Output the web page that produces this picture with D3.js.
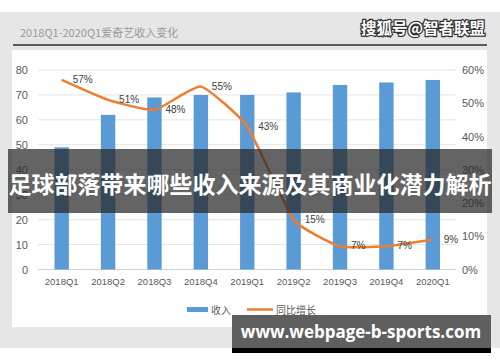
<!DOCTYPE html>
<html lang="zh">
<head>
<meta charset="utf-8">
<title>爱奇艺收入变化</title>
<script src="https://d3js.org/d3.v7.min.js"></script>
<style>
  body { margin: 0; background: #fff; }
  svg { display: block; font-family: "Liberation Sans", Arial, "Noto Sans CJK SC", sans-serif; }
</style>
</head>
<body>
<div id="chart"></div>
<script>
// data
var quarters = ["2018Q1", "2018Q2", "2018Q3", "2018Q4", "2019Q1", "2019Q2", "2019Q3", "2019Q4", "2020Q1"];
var revenue = [49, 62, 69, 70, 70, 71, 74, 75, 76];
var growth = [57, 51, 48, 55, 43, 15, 7, 7, 9];
var leftTicks = [0, 10, 20, 30, 40, 50, 60, 70, 80];
var rightTicks = [0, 10, 20, 30, 40, 50, 60];

var W = 500, H = 362;
var svg = d3.select("#chart").append("svg")
  .attr("width", W).attr("height", H);

// grey backdrop like the photographed slide
svg.append("rect").attr("x", 0).attr("y", 12).attr("width", W).attr("height", 336).attr("fill", "#e6e6e6");
svg.append("rect").attr("x", 12).attr("y", 50).attr("width", 475).attr("height", 277).attr("fill", "#fff");

svg.append("text").attr("x", 20).attr("y", 37)
  .style("font-size", "11px").style("fill", "#9a9a9a")
  .style("font-family", "'Noto Sans CJK SC', sans-serif")
  .text("2018Q1-2020Q1爱奇艺收入变化");
svg.append("line").attr("x1", 13).attr("x2", 487).attr("y1", 45).attr("y2", 45)
  .style("stroke", "#5a5a5a").style("stroke-width", 2);

var x = d3.scaleBand().domain(quarters).range([38.5, 456]).paddingInner(0.69).paddingOuter(0.345);
var y = d3.scaleLinear().domain([0, 80]).range([269.5, 70]);
var y2 = d3.scaleLinear().domain([0, 60]).range([269.5, 70]);

// gridlines
svg.append("g").selectAll("line").data(leftTicks).enter().append("line")
  .attr("x1", 38).attr("x2", 456)
  .attr("y1", function(d) { return y(d); }).attr("y2", function(d) { return y(d); })
  .style("stroke", function(d) { return d == 0 ? "#d0d0d0" : "#e4e4e4"; })
  .style("stroke-width", 1);

var yAxis = svg.append("g").attr("transform", "translate(33,0)")
  .call(d3.axisLeft(y).tickValues(leftTicks).tickSize(0).tickPadding(0));
yAxis.select(".domain").remove();
yAxis.selectAll("text").style("font-size", "11px").style("fill", "#595959").attr("x", -5);

var y2Axis = svg.append("g").attr("transform", "translate(462,0)")
  .call(d3.axisRight(y2).tickValues(rightTicks).tickSize(0).tickPadding(0)
    .tickFormat(function(d) { return d + "%"; }));
y2Axis.select(".domain").remove();
y2Axis.selectAll("text").style("font-size", "11px").style("fill", "#595959");

var xAxis = svg.append("g").attr("transform", "translate(0,278)")
  .call(d3.axisBottom(x).tickSize(0).tickPadding(0));
xAxis.select(".domain").remove();
xAxis.selectAll("text").style("font-size", "9.5px").style("fill", "#595959");

// bars
svg.append("g").selectAll("rect").data(quarters).enter().append("rect")
  .attr("x", function(d) { return x(d); })
  .attr("y", function(d, i) { return y(revenue[i]); })
  .attr("width", x.bandwidth())
  .attr("height", function(d, i) { return y(0) - y(revenue[i]); })
  .attr("fill", "#5b9bd5");

// growth line
var cx = function(i) { return x(quarters[i]) + x.bandwidth() / 2; };
var line = d3.line()
  .x(function(d, i) { return cx(i); })
  .y(function(d) { return y2(d); })
  .curve(d3.curveCardinal.tension(0.55));
svg.append("path").datum(growth)
  .attr("d", line)
  .attr("fill", "none")
  .style("stroke", "#ed7d31")
  .style("stroke-width", 2.5);

svg.append("g").selectAll("text").data(growth).enter().append("text")
  .attr("x", function(d, i) { return cx(i) + 11; })
  .attr("y", function(d) { return y2(d) + 3; })
  .style("font-size", "10px").style("fill", "#404040")
  .text(function(d) { return d + "%"; });

// legend
svg.append("rect").attr("x", 187).attr("y", 307).attr("width", 21).attr("height", 5).attr("fill", "#5b9bd5");
svg.append("text").attr("x", 211).attr("y", 313.5).style("font-size", "10px").style("fill", "#595959")
  .style("font-family", "'Noto Sans CJK SC', sans-serif").text("收入");
svg.append("line").attr("x1", 247).attr("x2", 273).attr("y1", 309.5).attr("y2", 309.5)
  .style("stroke", "#ed7d31").style("stroke-width", 2.5);
svg.append("text").attr("x", 276).attr("y", 313.5).style("font-size", "10px").style("fill", "#595959")
  .style("font-family", "'Noto Sans CJK SC', sans-serif").text("同比增长");

// watermark top right
svg.append("text").attr("x", 485).attr("y", 34).attr("text-anchor", "end")
  .style("font-size", "15.5px").style("font-weight", "bold")
  .style("font-family", "'Noto Sans CJK SC', sans-serif")
  .style("fill", "#fff").style("stroke", "#333").style("stroke-width", 2.5)
  .style("paint-order", "stroke")
  .text("搜狐号@智者联盟");

// headline banner
svg.append("rect").attr("x", 8).attr("y", 149).attr("width", 484).attr("height", 64)
  .attr("fill", "rgba(40,40,40,0.72)");
svg.append("text").attr("x", 250).attr("y", 193).attr("text-anchor", "middle")
  .style("font-size", "23px").style("font-weight", "bold")
  .style("font-family", "'Noto Sans CJK SC', sans-serif")
  .style("fill", "#fff")
  .text("足球部落带来哪些收入来源及其商业化潜力解析");

// site banner
svg.append("rect").attr("x", 232).attr("y", 315).attr("width", 259).attr("height", 38).attr("fill", "#000");
svg.append("rect").attr("x", 232).attr("y", 315).attr("width", 259).attr("height", 33).attr("fill", "#5f5f5f");
svg.append("text").attr("x", 361).attr("y", 338).attr("text-anchor", "middle")
  .style("font-size", "17px").style("font-weight", "bold")
  .style("font-family", "'Open Sans', 'DejaVu Sans', sans-serif")
  .style("fill", "#fff")
  .text("www.webpage-b-sports.com");
</script>
</body>
</html>
